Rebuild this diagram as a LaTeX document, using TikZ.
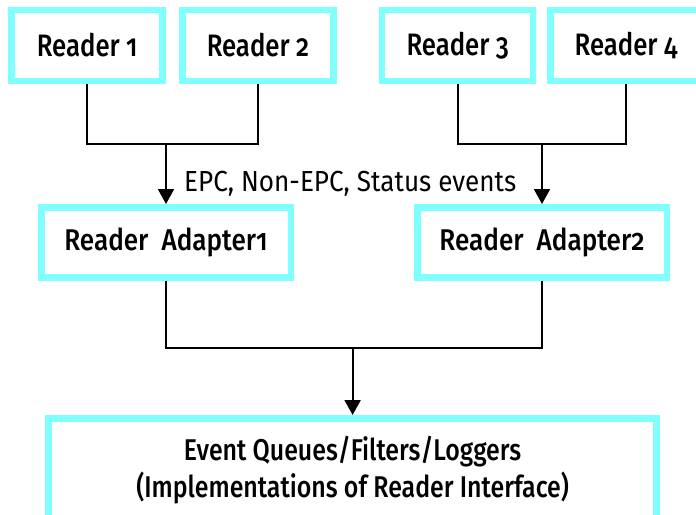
\documentclass[tikz,border=0pt]{standalone}
\usepackage{fontspec}
\setmainfont{Fira Sans}[Numbers=OldStyle, FakeStretch=0.9]
\newfontfamily\medfont{Fira Sans Medium}[Numbers=OldStyle, FakeStretch=0.83]
\newfontfamily\adfont{Fira Sans Medium}[Numbers=OldStyle, FakeStretch=0.87]
\usetikzlibrary{arrows.meta}
\definecolor{cyanb}{RGB}{128,255,255}
\begin{document}
\begin{tikzpicture}[x=1pt,y=-1pt,
  box/.style={draw=cyanb, line width=6.5pt, fill=white, inner sep=0pt},
  readerbox/.style={box, minimum width=151pt, minimum height=71pt, font=\medfont\fontsize{31}{38}\selectfont},
  adapterbox/.style={box, minimum width=249.5pt, minimum height=70pt, font=\adfont\fontsize{30}{36}\selectfont},
  conn/.style={line width=2pt, draw=black},
  arr/.style={conn, -{Triangle[width=16pt,length=15pt]}}
]
\useasboundingbox (0,0) rectangle (696,514);
\clip (0,0) rectangle (696,514);
\fill[white] (0,0) rectangle (696,514);
% readers
\node[readerbox] (r1) at (87.2,45.5) {Reader 1};
\node[readerbox] (r2) at (258,45.5) {Reader 2};
\node[readerbox] (r3) at (457.7,45.5) {Reader 3};
\node[readerbox] (r4) at (626,45.5) {Reader 4};
% adapters
\node[adapterbox] (a1) at (166,242.3) {Reader\ \ Adapter1\hspace{13pt}};
\node[adapterbox] (a2) at (542,242.3) {Reader\ \ Adapter2\hspace{13pt}};
% bottom box
\node[box, minimum width=608pt, minimum height=103.5pt, align=center,
      font=\medfont\fontsize{30}{37.7}\selectfont] (ev) at (352.6,470)
      {Event Queues/Filters/Loggers\\(Implementations of Reader Interface)};
% junctions
\coordinate (j1) at (166,144);
\coordinate (j2) at (542,144);
\coordinate (j3) at (352.6,347.7);
\draw[conn] (r1.south) -- (r1.south |- j1) -- (r2.south |- j1) -- (r2.south);
\draw[conn] (r3.south) -- (r3.south |- j2) -- (r4.south |- j2) -- (r4.south);
\draw[arr] (j1) -- (a1.north);
\draw[arr] (j2) -- (a2.north);
\draw[conn] (a1.south) -- (a1.south |- j3) -- (a2.south |- j3) -- (a2.south);
\draw[arr] (j3) -- (ev.north);
% label
\node[anchor=base west, inner sep=0pt, font=\fontsize{29}{34}\selectfont] (lbl) at (184,191) {EPC, Non-EPC, Status events};
\end{tikzpicture}
\end{document}
